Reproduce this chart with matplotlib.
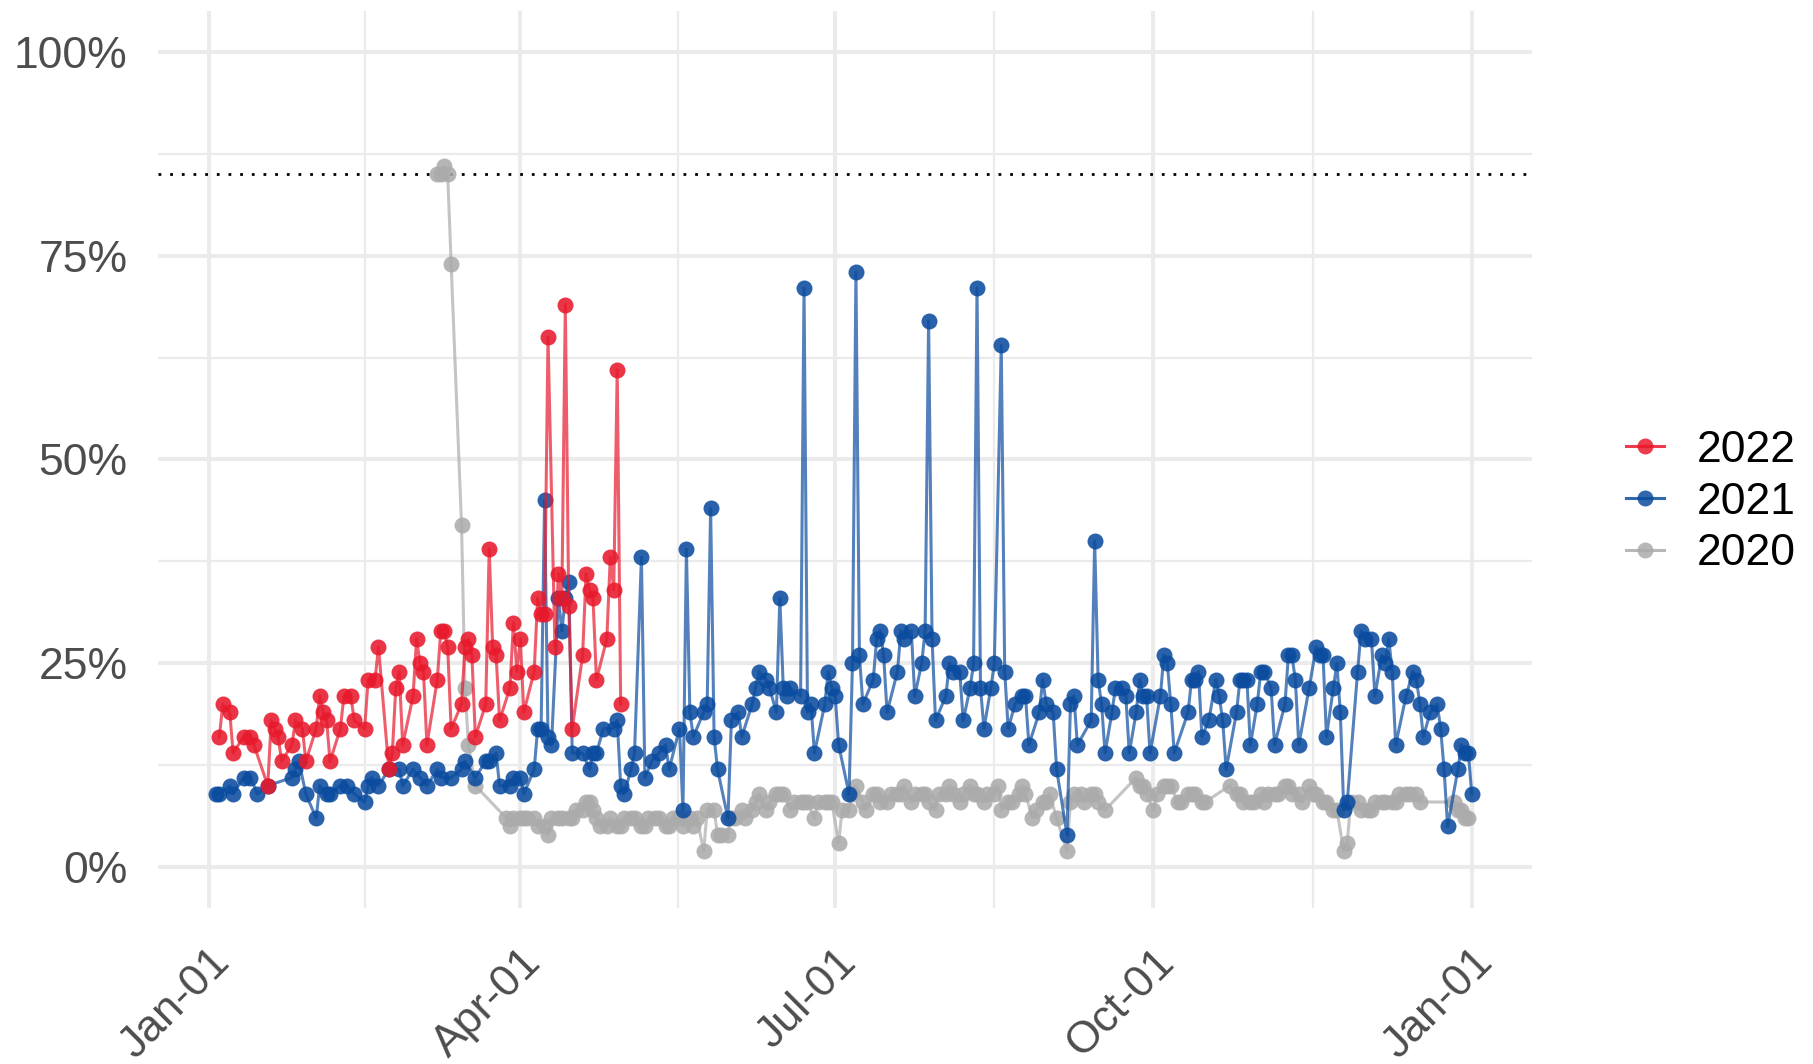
"""
Daily share by year (2020-2022), plotted on a common Jan-01..Jan-01 day-of-year axis.
"""

import matplotlib
matplotlib.use('Agg')
import matplotlib.pyplot as plt
from matplotlib.ticker import FuncFormatter

# ---------------------------------------------------------------------------
# Data (day of year, share in %)
# ---------------------------------------------------------------------------
days_2020 = [66, 67, 68, 69, 70, 73, 74, 75, 77, 86,
             87, 88, 90, 91, 92, 94, 95, 97, 98, 99,
             101, 102, 104, 105, 106, 108, 109, 110, 111, 112,
             113, 115, 116, 118, 119, 120, 122, 123, 125, 126,
             127, 129, 130, 132, 133, 134, 136, 137, 139, 140,
             141, 143, 144, 146, 147, 148, 150, 151, 152, 154,
             155, 157, 158, 159, 161, 162, 164, 165, 166, 168,
             169, 171, 172, 173, 175, 176, 178, 179, 180, 182,
             183, 185, 186, 187, 189, 190, 192, 193, 194, 196,
             197, 199, 200, 201, 203, 204, 206, 207, 208, 210,
             211, 213, 214, 215, 217, 218, 220, 221, 222, 224,
             225, 227, 228, 229, 231, 232, 234, 235, 236, 238,
             239, 241, 242, 243, 245, 248, 249, 250, 252, 253,
             255, 256, 257, 259, 268, 269, 270, 271, 273, 274,
             276, 277, 278, 280, 281, 283, 284, 285, 287, 288,
             295, 297, 298, 299, 301, 302, 304, 305, 306, 308,
             309, 311, 312, 313, 315, 316, 318, 319, 320, 322,
             323, 325, 326, 328, 329, 330, 332, 333, 335, 336,
             337, 339, 340, 342, 343, 344, 346, 347, 349, 350,
             360, 361, 362, 363, 364]
share_2020 = [85, 85, 86, 85, 74, 42, 22, 15, 10, 6,
              5, 6, 6, 6, 6, 6, 5, 5, 4, 6,
              6, 6, 6, 6, 7, 7, 8, 8, 7, 6,
              5, 5, 6, 5, 5, 6, 6, 6, 5, 5,
              6, 6, 6, 5, 5, 6, 6, 5, 6, 5,
              6, 2, 7, 7, 4, 4, 4, 6, 6, 7,
              6, 7, 8, 9, 7, 8, 9, 9, 9, 7,
              8, 8, 8, 8, 6, 8, 8, 8, 8, 3,
              7, 7, 9, 10, 8, 7, 9, 9, 8, 8,
              9, 9, 9, 10, 8, 9, 9, 9, 8, 7,
              9, 9, 10, 9, 8, 9, 10, 9, 9, 8,
              9, 9, 10, 7, 8, 8, 9, 10, 9, 6,
              7, 8, 8, 9, 6, 2, 8, 9, 9, 8,
              9, 9, 8, 7, 11, 10, 10, 9, 7, 9,
              10, 10, 10, 8, 8, 9, 9, 9, 8, 8,
              10, 9, 9, 8, 8, 8, 9, 8, 9, 9,
              9, 10, 10, 9, 9, 8, 10, 9, 9, 8,
              8, 7, 7, 2, 3, 8, 8, 7, 7, 7,
              8, 8, 8, 8, 8, 9, 9, 9, 9, 8,
              8, 7, 7, 6, 6]

days_2021 = [2, 3, 6, 7, 10, 12, 14, 17, 24, 25,
             26, 28, 31, 32, 34, 35, 38, 40, 42, 45,
             46, 47, 49, 52, 55, 56, 59, 61, 63, 66,
             67, 70, 73, 74, 77, 80, 81, 83, 84, 87,
             88, 90, 91, 94, 95, 96, 97, 98, 99, 101,
             102, 103, 104, 105, 108, 110, 111, 112, 114, 117,
             118, 119, 120, 122, 123, 125, 126, 128, 130, 132,
             133, 136, 137, 138, 139, 140, 143, 144, 145, 146,
             147, 150, 151, 153, 154, 157, 158, 159, 161, 162,
             164, 165, 166, 167, 168, 171, 172, 173, 174, 175,
             178, 179, 180, 181, 182, 185, 186, 187, 188, 189,
             192, 193, 194, 195, 196, 199, 200, 201, 203, 204,
             206, 207, 208, 209, 210, 213, 214, 215, 217, 218,
             220, 221, 222, 223, 224, 226, 227, 229, 230, 231,
             233, 235, 236, 237, 240, 241, 242, 244, 245, 248,
             249, 250, 251, 255, 256, 257, 258, 259, 261, 262,
             264, 265, 266, 268, 269, 270, 271, 272, 275, 276,
             277, 278, 279, 283, 284, 285, 286, 287, 289, 291,
             292, 293, 294, 297, 298, 299, 300, 301, 303, 304,
             305, 307, 308, 311, 312, 313, 314, 315, 318, 320,
             321, 322, 323, 325, 326, 327, 328, 329, 332, 333,
             334, 336, 337, 339, 340, 341, 342, 343, 346, 348,
             349, 350, 351, 353, 355, 356, 357, 358, 361, 362,
             363, 364, 365]
share_2021 = [9, 9, 10, 9, 11, 11, 9, 10, 11, 12,
              13, 9, 6, 10, 9, 9, 10, 10, 9, 8,
              10, 11, 10, 12, 12, 10, 12, 11, 10, 12,
              11, 11, 12, 13, 11, 13, 13, 14, 10, 10,
              11, 11, 9, 12, 17, 17, 45, 16, 15, 33,
              29, 33, 35, 14, 14, 12, 14, 14, 17, 17,
              18, 10, 9, 12, 14, 38, 11, 13, 14, 15,
              12, 17, 7, 39, 19, 16, 19, 20, 44, 16,
              12, 6, 18, 19, 16, 20, 22, 24, 23, 22,
              19, 33, 22, 21, 22, 21, 71, 19, 20, 14,
              20, 24, 22, 21, 15, 9, 25, 73, 26, 20,
              23, 28, 29, 26, 19, 24, 29, 28, 29, 21,
              25, 29, 67, 28, 18, 21, 25, 24, 24, 18,
              22, 25, 71, 22, 17, 22, 25, 64, 24, 17,
              20, 21, 21, 15, 19, 23, 20, 19, 12, 4,
              20, 21, 15, 18, 40, 23, 20, 14, 19, 22,
              22, 21, 14, 19, 23, 21, 21, 14, 21, 26,
              25, 20, 14, 19, 23, 23, 24, 16, 18, 23,
              21, 18, 12, 19, 23, 23, 23, 15, 20, 24,
              24, 22, 15, 20, 26, 26, 23, 15, 22, 27,
              26, 26, 16, 22, 25, 19, 7, 8, 24, 29,
              28, 28, 21, 26, 25, 28, 24, 15, 21, 24,
              23, 20, 16, 19, 20, 17, 12, 5, 12, 15,
              14, 14, 9]

days_2022 = [3, 4, 6, 7, 10, 12, 13, 17, 18, 19,
             20, 21, 24, 25, 27, 28, 31, 32, 33, 34,
             35, 38, 39, 41, 42, 45, 46, 48, 49, 52,
             53, 54, 55, 56, 59, 60, 61, 62, 63, 66,
             67, 68, 69, 70, 73, 74, 75, 76, 77, 80,
             81, 82, 83, 84, 87, 88, 89, 90, 91, 94,
             95, 96, 97, 98, 100, 101, 102, 103, 104, 105,
             108, 109, 110, 111, 112, 115, 116, 117, 118, 119]
share_2022 = [16, 20, 19, 14, 16, 16, 15, 10, 18, 17,
              16, 13, 15, 18, 17, 13, 17, 21, 19, 18,
              13, 17, 21, 21, 18, 17, 23, 23, 27, 12,
              14, 22, 24, 15, 21, 28, 25, 24, 15, 23,
              29, 29, 27, 17, 20, 27, 28, 26, 16, 20,
              39, 27, 26, 18, 22, 30, 24, 28, 19, 24,
              33, 31, 31, 65, 27, 36, 33, 69, 32, 17,
              26, 36, 34, 33, 23, 28, 38, 34, 61, 20]

TARGET = 85  # dotted reference line, %

MONTH_TICKS = [0, 90, 181, 273, 365]
MONTH_LABELS = ['Jan-01', 'Apr-01', 'Jul-01', 'Oct-01', 'Jan-01']
MONTH_MINOR = [45, 135.5, 227, 319]

# ---------------------------------------------------------------------------
# Style
# ---------------------------------------------------------------------------
COLORS = {'2022': '#E8192C', '2021': '#0B4C9F', '2020': '#ABABAB'}
GRID = '#EBEBEB'
TEXT_GREY = '#4D4D4D'
MS = 11.5
LW = 2.2

plt.rcParams['font.family'] = ['Liberation Sans', 'DejaVu Sans']


def main():
    fig = plt.figure(figsize=(18.13, 10.64), dpi=100)
    ax = fig.add_axes([0.0872, 0.1466, 0.845 - 0.0872, 0.9897 - 0.1466])

    series = [
        ('2020', days_2020, share_2020),
        ('2021', days_2021, share_2021),
        ('2022', days_2022, share_2022),
    ]
    handles = {}
    for z, (name, days, share) in enumerate(series):
        col = COLORS[name]
        ax.plot(days, share, color=col, lw=LW, alpha=0.7, zorder=2 + z)
        ax.plot(days, share, ls='none', marker='o', ms=MS, mfc=col, mec=col,
                mew=0, alpha=0.88, zorder=2 + z)
        # legend proxy: line + point
        h, = ax.plot([], [], color=col, lw=LW, marker='o', ms=MS,
                     mfc=col, mec=col, mew=0, alpha=0.85)
        handles[name] = h

    ax.axhline(TARGET, color='black', lw=2.0, ls=(0, (1, 3.2)), zorder=1.5)

    # axes, scales
    ax.set_xlim(-14.7, 382.4)
    ax.set_ylim(-5, 105)
    ax.set_xticks(MONTH_TICKS)
    ax.set_xticklabels(MONTH_LABELS, rotation=45, ha='right', va='top',
                       rotation_mode='anchor')
    ax.set_xticks(MONTH_MINOR, minor=True)
    ax.set_yticks([0, 25, 50, 75, 100])
    ax.set_yticks([12.5, 37.5, 62.5, 87.5], minor=True)
    ax.yaxis.set_major_formatter(FuncFormatter(lambda v, _: f'{v:.0f}%'))

    ax.grid(which='major', color=GRID, lw=2.9)
    ax.grid(which='minor', color=GRID, lw=1.6)
    ax.set_axisbelow(True)
    for s in ax.spines.values():
        s.set_visible(False)
    ax.tick_params(axis='both', which='both', length=0, labelsize=32,
                   labelcolor=TEXT_GREY)
    ax.tick_params(axis='y', pad=22)
    ax.tick_params(axis='x', pad=24)

    order = ['2022', '2021', '2020']
    fig.legend([handles[k] for k in order], order, loc='center left',
               bbox_to_anchor=(0.897, 0.528), frameon=False, fontsize=32,
               handlelength=0.85, handletextpad=0.73, labelspacing=0.24,
               borderpad=0, borderaxespad=0)

    fig.savefig('out.png', dpi=100, facecolor='white')
    plt.close(fig)


if __name__ == '__main__':
    main()
